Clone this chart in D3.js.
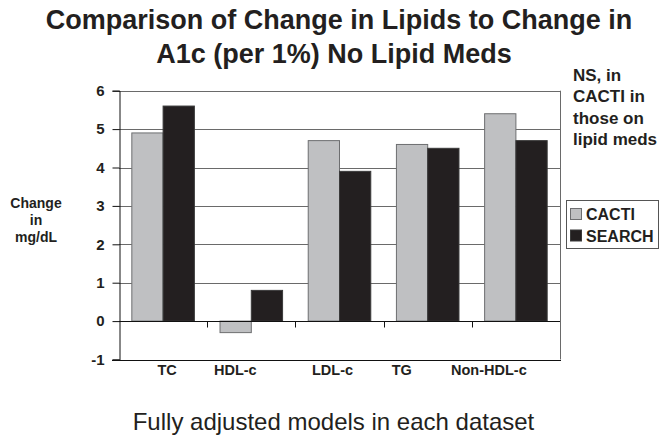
<!DOCTYPE html>
<html><head><meta charset="utf-8">
<script src="https://cdn.jsdelivr.net/npm/d3@7"></script>
<style>
html,body{margin:0;padding:0;background:#fff;}
svg{display:block;font-family:"Liberation Sans",Arial,sans-serif;}
</style></head>
<body><svg id="c" width="668" height="437"></svg>
<script>
const categories = ["TC", "HDL-c", "LDL-c", "TG", "Non-HDL-c"];
const seriesNames = ["CACTI", "SEARCH"];
const cactiValues = [4.9, -0.3, 4.7, 4.6, 5.4];
const searchValues = [5.6, 0.8, 3.9, 4.5, 4.7];
const yTicks = [-1, 0, 1, 2, 3, 4, 5, 6];
const titleLines = ["Comparison of Change in Lipids to Change in", "A1c (per 1%) No Lipid Meds"];
const yLabelLines = ["Change", "in", "mg/dL"];
const noteLines = ["NS, in", "CACTI in", "those on", "lipid meds"];
const caption = "Fully adjusted models in each dataset";

// layout (not data)
const labelShift = [4, -16, -7, -26, -27];
const colors = {CACTI: "#bfc0c2", SEARCH: "#231f20"};
const strokes = {CACTI: "#6d6e70", SEARCH: "#3a3a3a"};
const ink = "#231f20";

const svg = d3.select("#c");
const L = 119, R = 560, T = 90.7, B = 359.5;

const x = d3.scaleBand().domain(categories).range([L, R]).paddingInner(0).paddingOuter(0);
const xs = d3.scaleBand().domain(seriesNames).range([0, x.bandwidth()]).paddingInner(0).paddingOuter(0.41);
const y = d3.scaleLinear().domain([-1, 6]).range([B, T]);

// gridlines
svg.append("g").selectAll("line").data(yTicks.filter(t => t > 0)).join("line")
  .attr("x1", L).attr("x2", R)
  .attr("y1", d => Math.round(y(d)) + 0.5).attr("y2", d => Math.round(y(d)) + 0.5)
  .attr("stroke", "#6a6a6a").attr("stroke-width", 1);
// right border
svg.append("line").attr("x1", R + 0.5).attr("x2", R + 0.5).attr("y1", y(6)).attr("y2", y(-1))
  .attr("stroke", "#6a6a6a");

// bars
const data = [];
categories.forEach((c, i) => {
  data.push({c, s: "CACTI", v: cactiValues[i]});
  data.push({c, s: "SEARCH", v: searchValues[i]});
});
svg.append("g").selectAll("rect").data(data).join("rect")
  .attr("x", d => x(d.c) + xs(d.s))
  .attr("width", xs.bandwidth())
  .attr("y", d => y(Math.max(0, d.v)))
  .attr("height", d => Math.abs(y(d.v) - y(0)))
  .attr("fill", d => colors[d.s])
  .attr("stroke", d => strokes[d.s]).attr("stroke-width", 1);

// y axis
const yAxis = svg.append("g").attr("transform", `translate(${L + 0.5},0)`)
  .call(d3.axisLeft(y).tickValues(yTicks).tickSize(7).tickPadding(8).tickFormat(d => String(d)));
yAxis.select(".domain").attr("stroke", "#111");
yAxis.selectAll(".tick line").attr("stroke", "#111");
yAxis.selectAll("text").attr("font-size", 15).attr("font-weight", "bold").attr("fill", ink);

// bottom border at -1
svg.append("line").attr("x1", L - 7).attr("x2", R + 1)
  .attr("y1", Math.round(y(-1)) + 0.5).attr("y2", Math.round(y(-1)) + 0.5).attr("stroke", "#111");

// category axis at zero
const xAxis = svg.append("g").attr("transform", `translate(0,${Math.round(y(0)) + 0.5})`);
xAxis.append("line").attr("x1", L).attr("x2", R).attr("stroke", "#111");
xAxis.selectAll(".ct").data(categories.slice(1)).join("line").attr("class", "ct")
  .attr("x1", d => Math.round(x(d)) + 0.5).attr("x2", d => Math.round(x(d)) + 0.5)
  .attr("y1", 0).attr("y2", 6).attr("stroke", "#111");

// category labels
svg.append("g").selectAll("text").data(categories).join("text")
  .attr("x", (d, i) => x(d) + x.bandwidth() / 2 + labelShift[i])
  .attr("y", 375).attr("text-anchor", "middle")
  .attr("font-size", 14.5).attr("font-weight", "bold").attr("fill", ink).text(d => d);

// title
svg.append("g").selectAll("text").data(titleLines).join("text")
  .attr("x", (d, i) => i === 0 ? 339 : 334).attr("y", (d, i) => 29 + i * 33.5)
  .attr("text-anchor", "middle").attr("font-size", 27).attr("font-weight", "bold")
  .attr("fill", ink).text(d => d);

// y label
svg.append("g").selectAll("text").data(yLabelLines).join("text")
  .attr("x", 36).attr("y", (d, i) => 208 + i * 17)
  .attr("text-anchor", "middle").attr("font-size", 14).attr("font-weight", "bold")
  .attr("fill", ink).text(d => d);

// note
svg.append("g").selectAll("text").data(noteLines).join("text")
  .attr("x", 573).attr("y", (d, i) => 81 + i * 21.3)
  .attr("font-size", 17).attr("font-weight", "bold").attr("fill", ink).text(d => d);

// legend
const lg = svg.append("g");
lg.append("rect").attr("x", 566.5).attr("y", 200.5).attr("width", 92).attr("height", 48)
  .attr("fill", "#fff").attr("stroke", "#555");
seriesNames.forEach((s, i) => {
  lg.append("rect").attr("x", 570.5).attr("y", 208.5 + i * 21.5).attr("width", 11).attr("height", 11)
    .attr("fill", colors[s]).attr("stroke", strokes[s]);
  lg.append("text").attr("x", 586).attr("y", 220 + i * 21.5)
    .attr("font-size", 16).attr("font-weight", "bold").attr("fill", ink).text(s);
});

// caption
svg.append("text").attr("x", 333.5).attr("y", 430).attr("text-anchor", "middle")
  .attr("font-size", 24).attr("fill", ink).text(caption);
</script></body></html>
